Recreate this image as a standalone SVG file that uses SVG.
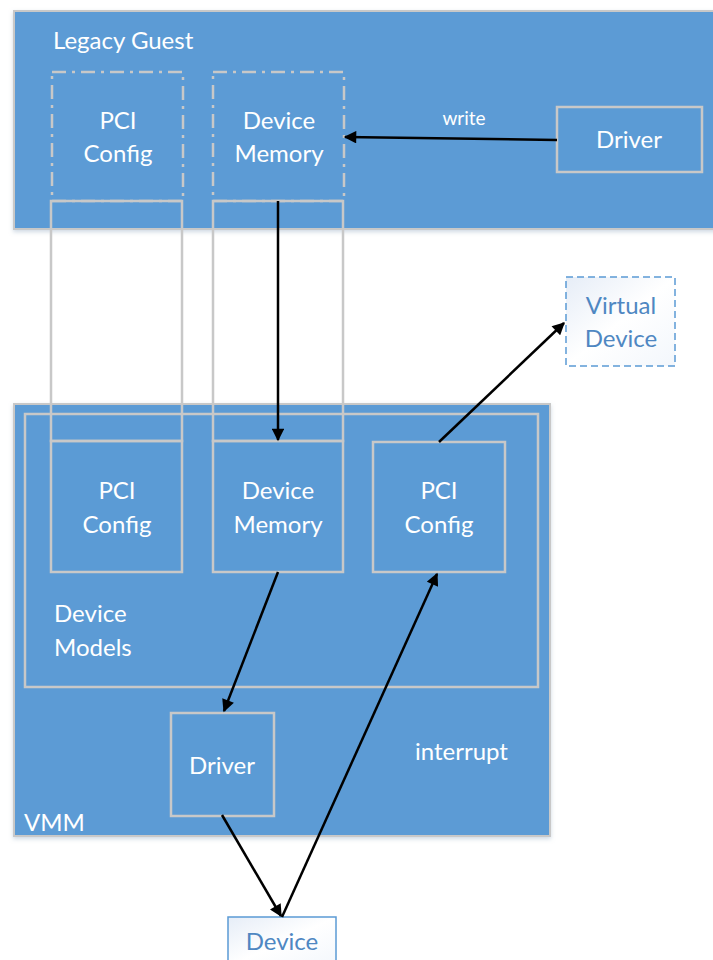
<svg xmlns="http://www.w3.org/2000/svg" width="713" height="960" viewBox="0 0 713 960">
<defs>
<linearGradient id="lg" x1="0" y1="0" x2="1" y2="1">
<stop offset="0" stop-color="#e6edf7"/><stop offset="0.5" stop-color="#ffffff"/><stop offset="1" stop-color="#f3f7fc"/>
</linearGradient>
<marker id="ah" viewBox="0 0 10 10" refX="9" refY="5" markerWidth="5.5" markerHeight="5" orient="auto" markerUnits="strokeWidth">
<path d="M0,0 L10,5 L0,10 z" fill="#000"/>
</marker>
<filter id="sh" x="-5%" y="-5%" width="110%" height="115%"><feDropShadow dx="0" dy="2" stdDeviation="2" flood-color="#9fb3c8" flood-opacity="0.5"/></filter>
</defs>
<style>
.box{fill:#5b9bd5;stroke:#c8c8c8;stroke-width:2.5}
.open{fill:none;stroke:#c8c8c8;stroke-width:2.5}
.dd{fill:none;stroke:#c8c8c8;stroke-width:2.5;stroke-dasharray:14 6 3 6}
.t{font-family:Lato,"Liberation Sans",sans-serif;font-size:24px;fill:#fff;text-anchor:middle}
.tl{font-family:Lato,"Liberation Sans",sans-serif;font-size:24px;fill:#fff}
.tb{font-family:Lato,"Liberation Sans",sans-serif;font-size:24px;fill:#4f87c2;text-anchor:middle}
.c{stroke:#000;stroke-width:2.5;fill:none;marker-end:url(#ah)}
</style>
<g id="legacy-guest">
<rect x="14" y="11" width="710" height="218" fill="#5b9bd5" stroke="#c8c8c8" stroke-width="2" filter="url(#sh)"/>
<text class="tl" x="53" y="49">Legacy Guest</text>
</g>
<g id="guest-pci-config">
<rect class="dd" x="52" y="72" width="131" height="129"/>
<text class="t" x="118" y="129">PCI</text>
<text class="t" x="118" y="162">Config</text>
</g>
<g id="guest-device-memory">
<rect class="dd" x="213" y="72" width="131" height="129"/>
<text class="t" x="279" y="129">Device</text>
<text class="t" x="279" y="162">Memory</text>
</g>
<g id="guest-driver">
<rect class="box" x="557" y="107" width="145" height="65"/>
<text class="t" x="629" y="148">Driver</text>
</g>
<g id="virtual-device">
<rect x="566" y="277" width="109" height="89" fill="url(#lg)" stroke="#5b9bd5" stroke-width="1.5" stroke-dasharray="7 4"/>
<text class="tb" x="621" y="314">Virtual</text>
<text class="tb" x="621" y="347">Device</text>
</g>
<g id="vmm">
<rect x="14" y="404" width="536" height="432" fill="#5b9bd5" stroke="#c8c8c8" stroke-width="2" filter="url(#sh)"/>
<text class="tl" x="24" y="831">VMM</text>
</g>
<g id="device-models">
<rect class="open" x="25" y="414" width="513" height="273"/>
<text class="tl" x="54" y="622">Device</text>
<text class="tl" x="54" y="656">Models</text>
</g>
<g id="vmm-pci-config">
<rect class="box" x="51" y="441" width="131" height="131"/>
<text class="t" x="117" y="499">PCI</text>
<text class="t" x="117" y="533">Config</text>
</g>
<g id="vmm-device-memory">
<rect class="box" x="213" y="441" width="130" height="131"/>
<text class="t" x="278" y="499">Device</text>
<text class="t" x="278" y="533">Memory</text>
</g>
<g id="vmm-pci-config-2">
<rect class="box" x="373" y="442" width="132" height="130"/>
<text class="t" x="439" y="499">PCI</text>
<text class="t" x="439" y="533">Config</text>
</g>
<g id="vmm-driver">
<rect class="box" x="171" y="713" width="103" height="103"/>
<text class="t" x="222" y="774">Driver</text>
</g>
<g id="interrupt-label">
<text class="tl" x="415" y="760">interrupt</text>
</g>
<g id="device">
<rect x="228" y="917" width="108" height="50" fill="url(#lg)" stroke="#5b9bd5" stroke-width="1.5"/>
<text class="tb" x="282" y="950">Device</text>
</g>
<g id="mapping">
<rect class="open" x="51" y="201" width="131" height="240"/>
<rect class="open" x="213" y="201" width="130" height="240"/>
</g>
<g id="connectors">
<path class="c" d="M557,140 L345,137"/>
<text x="464" y="125" font-family="Lato,'Liberation Sans',sans-serif" font-size="19" fill="#fff" text-anchor="middle">write</text>
<path class="c" d="M278,201 L278,440"/>
<path class="c" d="M278,572 L224,711"/>
<path class="c" d="M222,815 L281,916"/>
<path class="c" d="M282,917 L437,574"/>
<path class="c" d="M439,442 L564,323"/>
</g>
</svg>
